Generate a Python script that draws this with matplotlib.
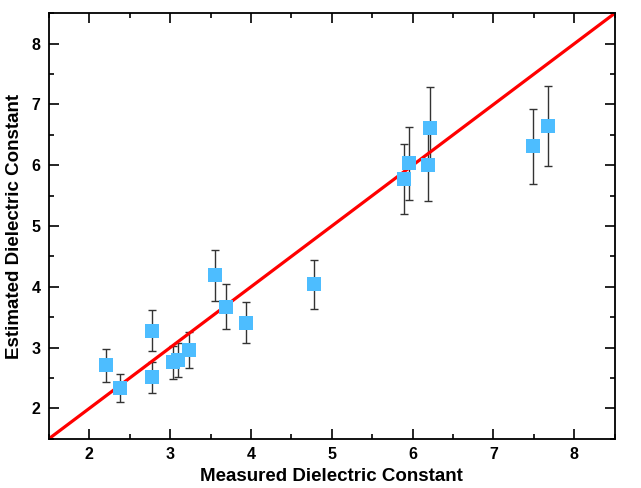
import matplotlib
matplotlib.use("Agg")
import matplotlib.pyplot as plt
from matplotlib.ticker import MultipleLocator

# measured vs estimated dielectric constant
measured = [2.20, 2.38, 2.78, 2.78, 3.03, 3.10, 3.23, 3.55, 3.69, 3.94,
            4.78, 5.89, 5.96, 6.19, 6.22, 7.49, 7.68]
estimated = [2.71, 2.33, 3.28, 2.51, 2.76, 2.79, 2.96, 4.19, 3.67, 3.41,
             4.04, 5.77, 6.03, 6.01, 6.62, 6.31, 6.64]
errors = [0.27, 0.23, 0.33, 0.25, 0.27, 0.28, 0.30, 0.42, 0.37, 0.34,
          0.40, 0.58, 0.60, 0.60, 0.66, 0.62, 0.66]
lims = [1.5, 8.5]

plt.rcParams["font.family"] = ["Liberation Sans", "DejaVu Sans"]
plt.rcParams["font.weight"] = "bold"

fig = plt.figure(figsize=(6.41, 4.88), dpi=100)
ax = fig.add_axes([0.0764, 0.101, 0.8826, 0.8717])

ax.plot(lims, lims, color="#ff0000", lw=2.3, zorder=2)
ax.errorbar(measured, estimated, yerr=errors, fmt="none", ecolor="#333333",
            elinewidth=1.0, capsize=3, capthick=1.0, zorder=1)
ax.plot(measured, estimated, "s", color="#4dbdff", markersize=9.5,
        markeredgewidth=0, zorder=3)

ax.set_xlim(lims)
ax.set_ylim(lims)
ax.xaxis.set_major_locator(MultipleLocator(1))
ax.xaxis.set_minor_locator(MultipleLocator(0.5))
ax.yaxis.set_major_locator(MultipleLocator(1))
ax.yaxis.set_minor_locator(MultipleLocator(0.5))
ax.tick_params(which="both", direction="in", top=True, right=True,
               width=1.2, labelsize=11.5, pad=6)
ax.tick_params(which="major", length=7)
ax.tick_params(which="minor", length=3.5)
for lbl in ax.get_xticklabels() + ax.get_yticklabels():
    lbl.set_fontweight("bold")
for s in ax.spines.values():
    s.set_linewidth(1.3)

ax.set_xlabel("Measured Dielectric Constant", fontsize=13.5,
              fontweight="bold", labelpad=4)
ax.set_ylabel("Estimated Dielectric Constant", fontsize=13.5,
              fontweight="bold", labelpad=6)

fig.savefig("out.png", dpi=100)
